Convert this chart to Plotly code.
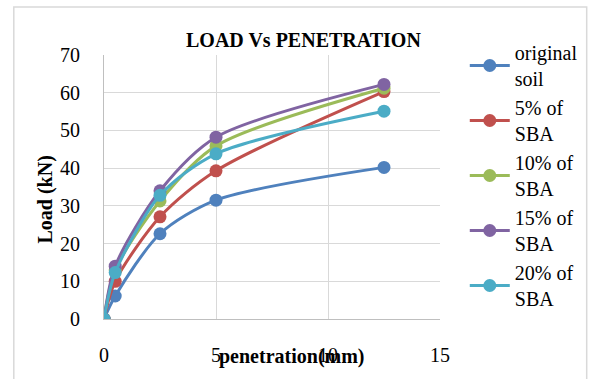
import plotly.graph_objects as go

penetration = [0, 0.5, 2.5, 5, 12.5]
series_names = ["original<br>soil", "5% of<br>SBA", "10% of<br>SBA", "15% of<br>SBA", "20% of<br>SBA"]
original_soil = [0, 6.1, 22.6, 31.5, 40.2]
sba_5 = [0, 10.0, 27.1, 39.3, 60.3]
sba_10 = [0, 13.0, 31.3, 45.9, 61.2]
sba_15 = [0, 14.0, 34.0, 48.2, 62.2]
sba_20 = [0, 12.3, 32.8, 43.8, 55.1]
colors = ["#4F81BD", "#C0504D", "#9BBB59", "#8064A2", "#4BACC6"]

FONT = "'Liberation Serif', 'DejaVu Serif', serif"
FS = 20
fig = go.Figure()
for name, vals, c in zip(series_names, [original_soil, sba_5, sba_10, sba_15, sba_20], colors):
    fig.add_trace(go.Scatter(
        x=penetration, y=vals, name=name, mode="lines+markers",
        line=dict(color=c, width=3, shape="spline", smoothing=0.8),
        marker=dict(color=c, size=13),
    ))

L, R, T, B = 104, 152, 55, 60
W, H = 595, 379
pw, ph = W - L - R, H - T - B

def px(x):
    return (x - L) / pw

def py(y):
    return (H - B - y) / ph

fig.update_layout(
    width=W, height=H,
    margin=dict(l=L, r=R, t=T, b=B),
    paper_bgcolor="white", plot_bgcolor="white",
    font=dict(family=FONT, size=FS, color="black"),
    showlegend=True,
    legend=dict(x=px(468), y=py(33), xanchor="left", yanchor="top",
                font=dict(family=FONT, size=FS), tracegroupgap=0,
                itemwidth=40, bgcolor="rgba(0,0,0,0)", maxheight=379),
    xaxis=dict(range=[0, 15], dtick=5, showgrid=True, gridcolor="#D9D9D9", gridwidth=1,
               zeroline=False, showline=True, linecolor="#BFBFBF", linewidth=1,
               ticks="", ticklabelstandoff=18, tickfont=dict(family=FONT, size=FS)),
    yaxis=dict(range=[0, 70], dtick=10, showgrid=True, gridcolor="#D9D9D9", gridwidth=1,
               zeroline=False, showline=True, linecolor="#BFBFBF", linewidth=1,
               ticks="", ticklabelstandoff=19, tickfont=dict(family=FONT, size=FS)),
    shapes=[dict(type="rect", xref="paper", yref="paper",
                 x0=px(13), x1=px(591), y0=py(386), y1=py(7),
                 line=dict(color="#D9D9D9", width=1.5), fillcolor="rgba(0,0,0,0)", layer="below")],
    annotations=[
        dict(text="<b>LOAD Vs PENETRATION</b>", xref="paper", yref="paper",
             x=px(305), y=py(40), xanchor="center", yanchor="middle", showarrow=False,
             font=dict(family=FONT, size=FS)),
        dict(text="<b>penetration(mm)</b>", xref="paper", yref="paper",
             x=px(294), y=py(356), xanchor="center", yanchor="middle", showarrow=False,
             font=dict(family=FONT, size=FS)),
        dict(text="<b>Load (kN)</b>", xref="paper", yref="paper", textangle=-90,
             x=px(44), y=py(200), xanchor="center", yanchor="middle", showarrow=False,
             font=dict(family=FONT, size=FS)),
    ],
)
fig.write_html("out.html")
